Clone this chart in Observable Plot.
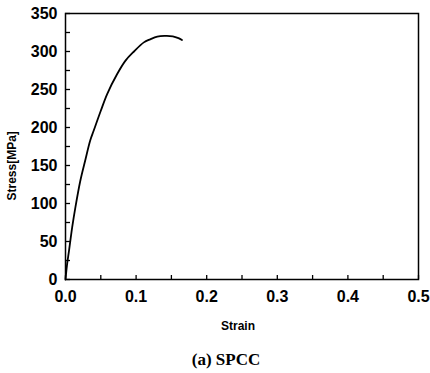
<!DOCTYPE html>
<html>
<head>
<meta charset="utf-8">
<script src="https://cdn.jsdelivr.net/npm/d3@7"></script>
<script src="https://cdn.jsdelivr.net/npm/@observablehq/plot@0.6"></script>
<style>
  body { margin: 0; background: #fff; }
  #chart { width: 430px; }
  .caption {
    width: 430px; box-sizing: border-box; padding-left: 22px;
    margin-top: 10px; text-align: center;
    font-family: "Liberation Serif", "Times New Roman", serif;
    font-weight: bold; font-size: 17px; line-height: 20px; color: #000;
  }
</style>
</head>
<body>
<div id="chart"></div>
<script>
// Stress-strain curve of SPCC
const strain = [0, 0.002, 0.005, 0.0095, 0.014, 0.021, 0.028, 0.035, 0.040, 0.050, 0.059, 0.073, 0.085, 0.097, 0.111, 0.120, 0.130, 0.140, 0.152, 0.160, 0.165];
const stress = [0, 18, 38, 69, 95, 130, 157, 183, 196, 222, 244, 270, 288, 300, 312, 316, 319.5, 320.5, 320, 317.5, 315];

const xTicks = [0, 0.1, 0.2, 0.3, 0.4, 0.5];
const xMinorTicks = [0, 0.05, 0.1, 0.15, 0.2, 0.25, 0.3, 0.35, 0.4, 0.45, 0.5];
const yTicks = [0, 50, 100, 150, 200, 250, 300, 350];
const yMinorTicks = [0, 25, 50, 75, 100, 125, 150, 175, 200, 225, 250, 275, 300, 325, 350];

const xLabel = "Strain";
const yLabel = "Stress[MPa]";
const captionText = "(a) SPCC";

const data = strain.map((s, i) => ({strain: s, stress: stress[i]}));

const chart = Plot.plot({
  width: 430,
  height: 340,
  marginLeft: 65,
  marginRight: 12,
  marginTop: 13,
  marginBottom: 61,
  style: {
    fontFamily: "'Liberation Sans', Arial, sans-serif",
    fontWeight: "bold",
    fontSize: "16px",
    color: "#000",
    background: "#fff"
  },
  x: {domain: [0, 0.5]},
  y: {domain: [0, 350]},
  marks: [
    Plot.axisX(xTicks, {tickSize: 0, tickPadding: 11, tickFormat: d => d.toFixed(1), label: null, fontSize: 16}),
    Plot.axisX(xMinorTicks, {tickSize: 4, dy: -4, fill: "none", label: null, strokeWidth: 1.3}),
    Plot.axisY(yTicks, {tickSize: 0, tickPadding: 8, label: null, fontSize: 16}),
    Plot.axisY(yMinorTicks, {tickSize: 5, dx: 5, fill: "none", label: null, strokeWidth: 1.3}),
    Plot.frame({stroke: "#000", strokeWidth: 1.5}),
    Plot.line(data, {x: "strain", y: "stress", curve: "catmull-rom", stroke: "#000", strokeWidth: 1.8}),
    Plot.text([xLabel], {text: d => d, frameAnchor: "bottom", dx: -4, dy: 50, fontSize: 12, fontWeight: "bold"}),
    Plot.text([yLabel], {text: d => d, frameAnchor: "left", rotate: -90, dx: -53, dy: 54, fontSize: 12, fontWeight: "bold"})
  ]
});

document.getElementById("chart").appendChild(chart);
const cap = document.createElement("div");
cap.className = "caption";
cap.textContent = captionText;
document.body.appendChild(cap);
</script>
</body>
</html>
